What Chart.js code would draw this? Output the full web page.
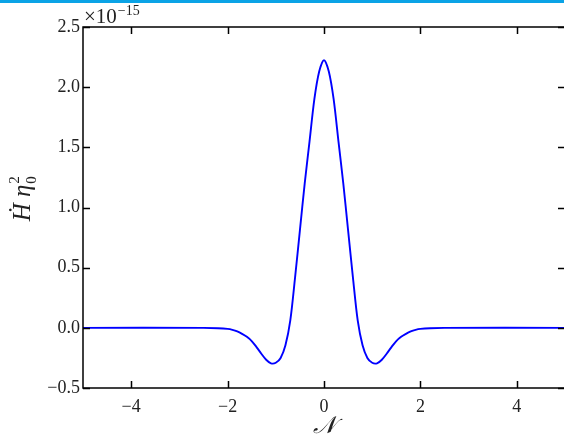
<!DOCTYPE html>
<html lang="en">
<head>
  <meta charset="UTF-8">
  <title>H dot eta0^2 vs N</title>
  <style>
    html, body {
      margin: 0;
      padding: 0;
      background: white;
      overflow: hidden;
      width: 564px;
      height: 436px;
    }
    #topBar {
      position: absolute;
      left: 0;
      top: 0;
      width: 564px;
      height: 3px;
      background: #0aa3e6;
      z-index: 2;
    }
    #wrap {
      position: absolute;
      left: 0;
      top: 0;
      width: 600px;
      height: 436px;
    }
  </style>
  <script src="https://cdn.jsdelivr.net/npm/chart.js"></script>
</head>
<body>
  <div id="topBar"></div>
  <div id="wrap"><canvas id="myChart" width="600" height="436"></canvas></div>

  <script>
    // values (H in units of 1e-15)
    const nValues = [-5, -2.5, -2.2, -2.0, -1.9, -1.8, -1.7, -1.6, -1.5, -1.4, -1.3, -1.2, -1.1, -1.0, -0.9, -0.8, -0.7, -0.6, -0.5, -0.4, -0.3, -0.2, -0.1, 0,
                     0.1, 0.2, 0.3, 0.4, 0.5, 0.6, 0.7, 0.8, 0.9, 1.0, 1.1, 1.2, 1.3, 1.4, 1.5, 1.6, 1.7, 1.8, 1.9, 2.0, 2.2, 2.5, 5];
    const hValues = [0, 0, -0.003, -0.009, -0.017, -0.03, -0.05, -0.075, -0.11, -0.16, -0.215, -0.265, -0.295, -0.29, -0.25, -0.145, 0.06, 0.42, 0.81, 1.20, 1.55, 1.90, 2.13, 2.225,
                     2.13, 1.90, 1.55, 1.20, 0.81, 0.42, 0.06, -0.145, -0.25, -0.29, -0.295, -0.265, -0.215, -0.16, -0.11, -0.075, -0.05, -0.03, -0.017, -0.009, -0.003, 0, 0];
    const xTicks = [-4, -2, 0, 2, 4];
    const yTicks = [-0.5, 0.0, 0.5, 1.0, 1.5, 2.0, 2.5];

    const serif = '"Liberation Serif", "DejaVu Serif", serif';
    const fmt = (v, d) => (v < 0 ? '\u2212' : '') + Math.abs(v).toFixed(d);

    // frame, inward ticks and the math labels
    const framePlugin = {
      id: 'frame',
      afterDraw(chart) {
        const c = chart.ctx;
        const a = chart.chartArea;
        const xs = chart.scales.x, ys = chart.scales.y;
        c.save();
        c.strokeStyle = '#000';
        c.lineWidth = 1.5;
        c.strokeRect(a.left, a.top, a.right - a.left, a.bottom - a.top);
        c.beginPath();
        xTicks.forEach(t => {
          const px = Math.round(xs.getPixelForValue(t)) + 0.5;
          c.moveTo(px, a.bottom); c.lineTo(px, a.bottom - 7);
          c.moveTo(px, a.top); c.lineTo(px, a.top + 7);
        });
        yTicks.forEach(t => {
          const py = Math.round(ys.getPixelForValue(t)) + 0.5;
          c.moveTo(a.left, py); c.lineTo(a.left + 7, py);
          c.moveTo(a.right, py); c.lineTo(a.right - 7, py);
        });
        c.stroke();

        c.fillStyle = '#222';
        // offset text
        c.font = '21px ' + serif;
        c.textBaseline = 'alphabetic';
        c.textAlign = 'left';
        c.fillText('\u00d710', a.left + 1, 23);
        const w10 = c.measureText('\u00d710').width;
        c.font = '14px ' + serif;
        c.fillText('\u221215', a.left + 2 + w10, 15);

        // x label
        c.font = 'italic 24px ' + serif;
        c.textAlign = 'center';
        c.fillText('\ud835\udca9', xs.getPixelForValue(0), 433);

        // y label, rotated
        c.translate(30, 198);
        c.rotate(-Math.PI / 2);
        c.textAlign = 'left';
        c.font = 'italic 25px ' + serif;
        const main = '\u1e22 \u03b7';
        const w = c.measureText(main).width;
        const x0 = -(w + 10) / 2;
        c.fillText(main, x0, 0);
        c.font = '15px ' + serif;
        c.fillText('2', x0 + w + 1, -11);
        c.fillText('0', x0 + w + 1, 6);
        c.restore();
      }
    };

    const ctx = document.getElementById('myChart').getContext('2d');
    const myChart = new Chart(ctx, {
      type: 'line',
      data: {
        datasets: [{
          data: nValues.map((n, i) => ({ x: n, y: hValues[i] })),
          borderColor: '#0000ff',
          borderWidth: 1.9,
          pointRadius: 0,
          fill: false,
          tension: 0.3
        }]
      },
      options: {
        responsive: false,
        animation: false,
        layout: { padding: { top: 27, right: 35, left: 0, bottom: 0 } },
        plugins: { legend: { display: false }, tooltip: { enabled: false } },
        scales: {
          x: {
            type: 'linear',
            min: -5,
            max: 5,
            afterBuildTicks: s => { s.ticks = xTicks.map(v => ({ value: v })); },
            afterFit: s => { s.height = 48; },
            grid: { display: false, drawTicks: false },
            border: { display: false },
            ticks: {
              padding: 8,
              color: '#222',
              font: { family: serif, size: 18 },
              callback: v => fmt(v, 0)
            }
          },
          y: {
            min: -0.5,
            max: 2.5,
            afterBuildTicks: s => { s.ticks = yTicks.map(v => ({ value: v })); },
            afterFit: s => { s.width = 83; },
            grid: { display: false, drawTicks: false },
            border: { display: false },
            ticks: {
              padding: 3,
              color: '#222',
              font: { family: serif, size: 18 },
              callback: v => fmt(v, 1)
            }
          }
        }
      },
      plugins: [framePlugin]
    });
  </script>
</body>
</html>
